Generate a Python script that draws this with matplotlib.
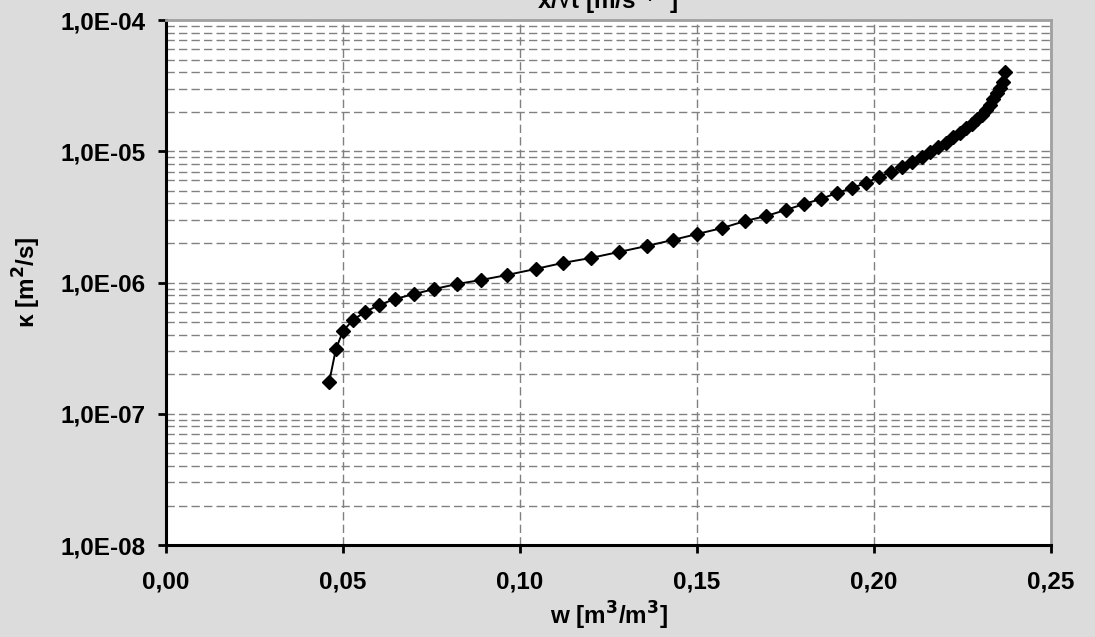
import matplotlib
matplotlib.use("Agg")
import matplotlib.pyplot as plt
import numpy as np
from matplotlib.ticker import FixedLocator, LogLocator, NullFormatter

# moisture content w [m3/m3]
w = [0.0461, 0.0480, 0.0500, 0.0528, 0.0562, 0.0602, 0.0647, 0.0701, 0.0757,
     0.0822, 0.0890, 0.0963, 0.1045, 0.1121, 0.1201, 0.1280, 0.1359, 0.1432,
     0.1500, 0.1571, 0.1636, 0.1695, 0.1751, 0.1802, 0.1850, 0.1895, 0.1938,
     0.1977, 0.2014, 0.2048, 0.2079, 0.2107, 0.2136, 0.2158, 0.2181, 0.2203,
     0.2223, 0.2243, 0.2260, 0.2277, 0.2291, 0.2305, 0.2316, 0.2328, 0.2336,
     0.2347, 0.2356, 0.2364, 0.2370]
# diffusivity kappa [m2/s]
kappa = [1.75e-7, 3.11e-7, 4.27e-7, 5.18e-7, 5.96e-7, 6.74e-7, 7.49e-7, 8.17e-7,
         8.91e-7, 9.74e-7, 1.045e-6, 1.14e-6, 1.27e-6, 1.41e-6, 1.54e-6, 1.71e-6,
         1.90e-6, 2.11e-6, 2.34e-6, 2.60e-6, 2.94e-6, 3.21e-6, 3.57e-6, 3.96e-6,
         4.33e-6, 4.81e-6, 5.25e-6, 5.73e-6, 6.37e-6, 6.95e-6, 7.59e-6, 8.28e-6,
         9.04e-6, 9.86e-6, 1.08e-5, 1.16e-5, 1.29e-5, 1.38e-5, 1.50e-5, 1.61e-5,
         1.76e-5, 1.89e-5, 2.06e-5, 2.25e-5, 2.50e-5, 2.78e-5, 3.03e-5, 3.37e-5,
         4.02e-5]

x_ticks = [0.00, 0.05, 0.10, 0.15, 0.20, 0.25]
x_ticklabels = ['0,00', '0,05', '0,10', '0,15', '0,20', '0,25']
y_ticks = [1e-8, 1e-7, 1e-6, 1e-5, 1e-4]
y_ticklabels = ['1,0E-08', '1,0E-07', '1,0E-06', '1,0E-05', '1,0E-04']

plt.rcParams['font.family'] = ['Liberation Sans', 'DejaVu Sans']
plt.rcParams['font.weight'] = 'bold'
plt.rcParams['mathtext.default'] = 'bf'
fs = 17.5
bg = '#dcdcdc'
gridc = '#808080'

fig = plt.figure(figsize=(10.95, 6.37), dpi=100, facecolor=bg)
ax = fig.add_axes([0.1516, 0.1444, 0.8082, 0.8242])
ax.set_facecolor('white')

ax.set_yscale('log')
ax.set_xlim(0, 0.25)
ax.set_ylim(1e-8, 1e-4)

# grid: major + minor dashed
ax.yaxis.set_minor_locator(LogLocator(base=10, subs=np.arange(2, 10)))
ax.yaxis.set_minor_formatter(NullFormatter())
ax.grid(True, which='major', axis='both', color=gridc, linestyle=(0, (6, 3)), linewidth=1.0)
ax.grid(True, which='minor', axis='y', color=gridc, linestyle=(0, (6, 3)), linewidth=1.0)
ax.set_axisbelow(True)

ax.plot(w, kappa, color='black', linewidth=1.4, marker='D', markersize=7,
        markerfacecolor='black', markeredgecolor='black', zorder=3)

ax.xaxis.set_major_locator(FixedLocator(x_ticks))
ax.set_xticklabels(x_ticklabels)
ax.yaxis.set_major_locator(FixedLocator(y_ticks))
ax.set_yticklabels(y_ticklabels)

ax.tick_params(axis='both', which='major', direction='out', length=6, width=2,
               labelsize=fs, colors='black')
ax.tick_params(axis='x', pad=12)
ax.tick_params(axis='y', pad=9)
ax.tick_params(axis='y', which='minor', length=0)

for side in ['left', 'bottom']:
    ax.spines[side].set_color('black')
    ax.spines[side].set_linewidth(2.2)
for side in ['top', 'right']:
    ax.spines[side].set_color('#a0a0a0')
    ax.spines[side].set_linewidth(2.0)

ax.set_xlabel('w [m$^{3}$/m$^{3}$]', fontsize=fs, fontweight='bold', labelpad=5)
ax.set_ylabel('κ [m$^{2}$/s]', fontsize=fs, fontweight='bold', labelpad=12)

fig.text(0.555, 0.985, 'x/√t [m/s$^{0,5}$]', ha='center', va='baseline',
         fontsize=fs, fontweight='bold')

fig.savefig('out.png', dpi=100, facecolor=bg)
